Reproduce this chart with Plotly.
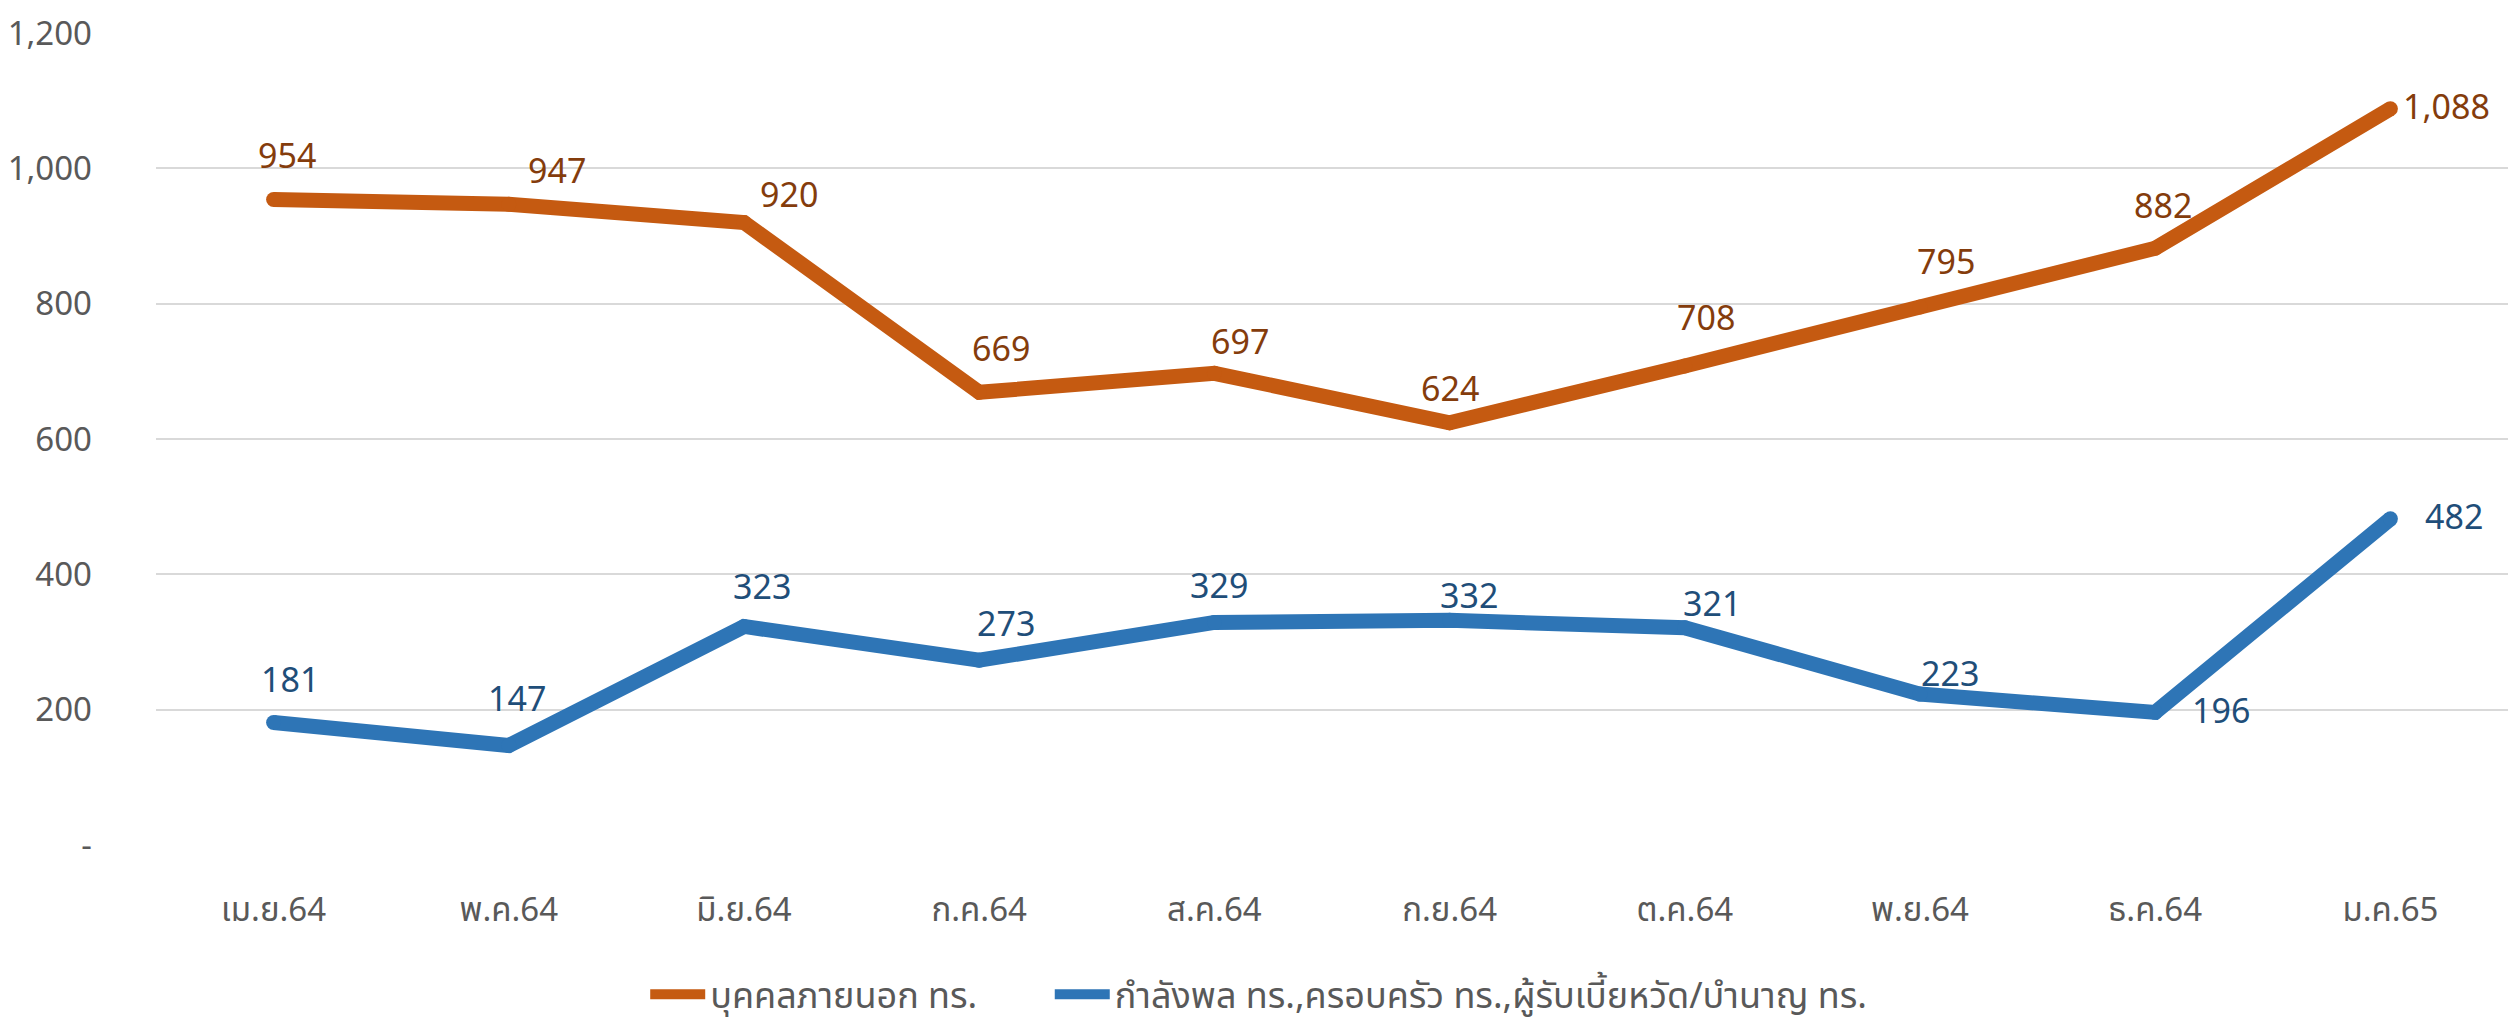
import plotly.graph_objects as go

categories = ["เม.ย.64", "พ.ค.64", "มิ.ย.64", "ก.ค.64", "ส.ค.64", "ก.ย.64", "ต.ค.64", "พ.ย.64", "ธ.ค.64", "ม.ค.65"]
outsiders = [954, 947, 920, 669, 697, 624, 708, 795, 882, 1088]
personnel = [181, 147, 323, 273, 329, 332, 321, 223, 196, 482]
name_outsiders = "บุคคลภายนอก ทร."
name_personnel = "กำลังพล ทร.,ครอบครัว ทร.,ผู้รับเบี้ยหวัด/บำนาญ ทร."
y_tickvals = [0, 200, 400, 600, 800, 1000, 1200]
y_ticktext = ["-", "200", "400", "600", "800", "1,000", "1,200"]

# label offsets in pixels (style)
out_dx = [13, 48, 45, 22, 26, 0, 21, 26, 8, 56]
out_dy = [42, 32, 26, 42, 30, 32, 46, 44, 41, 0]
per_dx = [16, 8, 18, 27, 5, 19, 27, 30, 66, 64]
per_dy = [41, 45, 38, 35, 35, 23, 22, 19, 0, 0]

FONT = "Noto Sans Thai, Noto Sans, Tahoma, sans-serif"
ORANGE = "#C55A11"
BLUE = "#2E75B6"

fig = go.Figure()
for vals, name, color, lg in [(outsiders, name_outsiders, ORANGE, "legend"),
                              (personnel, name_personnel, BLUE, "legend2")]:
    fig.add_trace(go.Scatter(x=categories, y=vals, mode="lines", name=name,
                             line=dict(color=color, width=15), legend=lg,
                             hoverinfo="skip"))
    # round caps / joins
    fig.add_trace(go.Scatter(x=categories, y=vals, mode="markers", showlegend=False,
                             marker=dict(color=color, size=15, line=dict(width=0)),
                             hoverinfo="skip"))

def fmt(v):
    return f"{v:,}"

for i, c in enumerate(categories):
    fig.add_annotation(x=c, y=outsiders[i], text=fmt(outsiders[i]), showarrow=False,
                       xshift=out_dx[i], yshift=out_dy[i],
                       font=dict(family=FONT, size=34, color="#843C0C"))
    fig.add_annotation(x=c, y=personnel[i], text=fmt(personnel[i]), showarrow=False,
                       xshift=per_dx[i], yshift=per_dy[i],
                       font=dict(family=FONT, size=34, color="#1F4E79"))

legend_common = dict(orientation="h", yanchor="middle", y=-0.184, xanchor="left",
                     font=dict(family=FONT, size=36, color="#595959"),
                     bgcolor="rgba(0,0,0,0)", itemwidth=55)

fig.update_layout(
    width=2509, height=1025,
    margin=dict(l=156, r=1, t=33, b=176),
    paper_bgcolor="white", plot_bgcolor="white",
    font=dict(family=FONT, size=33, color="#595959"),
    showlegend=True,
    legend=dict(x=0.208, **legend_common),
    legend2=dict(x=0.380, **legend_common),
)
fig.update_xaxes(range=[-0.5, 9.5], showgrid=False, showline=False, zeroline=False, ticks="",
                 tickfont=dict(size=33, color="#595959"), ticklabelstandoff=42)
fig.update_yaxes(range=[0, 1200], tickvals=y_tickvals, ticktext=y_ticktext,
                 showgrid=True, gridcolor="#D9D9D9", gridwidth=2, zeroline=False,
                 showline=False, ticks="", ticklabelstandoff=63,
                 tickfont=dict(size=33, color="#595959"))

fig.write_html("out.html", config={"displayModeBar": False},
               post_script="document.body.style.margin='0';document.body.style.overflow='hidden';")
